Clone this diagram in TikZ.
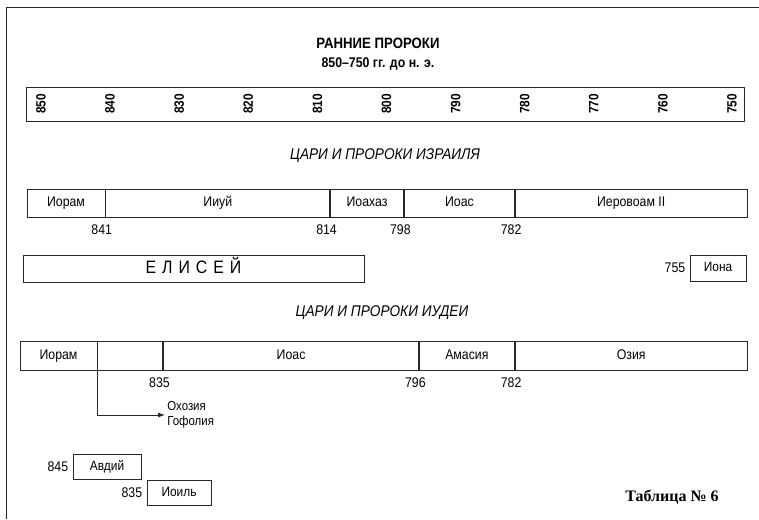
\documentclass[tikz,border=0pt]{standalone}
\usepackage{fontspec}
\setmainfont{Liberation Sans}[FakeStretch=0.88]
\newfontfamily\tablefont{Liberation Serif}
\usepackage{tikz}
\usetikzlibrary{arrows.meta,positioning}
\definecolor{ink}{RGB}{40,40,40}

\tikzset{
  reign/.style={draw=ink,line width=0.8pt,minimum height=28pt,inner sep=0pt,text height=10pt,text depth=3pt,font=\fontsize{14}{16}\selectfont},
  yearlbl/.style={inner sep=1pt,font=\fontsize{14}{16}\selectfont},
  prophet/.style={draw=ink,line width=0.8pt,minimum height=25pt,inner sep=0pt,text height=10pt,text depth=3pt,font=\fontsize{13.5}{16}\selectfont},
  heading/.style={font=\fontsize{15.5}{18}\selectfont\itshape}
}

\begin{document}
\begin{tikzpicture}[x=1pt,y=-1pt,line width=0.8pt,draw=ink]
  \useasboundingbox (0,0) rectangle (759,519);
  \draw[ink] (6,519) -- (6,7) -- (759,7);

  \node[font=\fontsize{15}{17}\selectfont\bfseries] (title) at (378,43) {РАННИЕ ПРОРОКИ};
  \node[font=\fontsize{14}{16}\selectfont\bfseries] (dates) at (378,64) {850–750 гг. до н. э.};

  \node[draw=ink,minimum width=718pt,minimum height=34pt,inner sep=0pt] (scale) at (385.5,104) {};
  \foreach \yr [count=\i from 0] in {850,840,...,750}
    \node[rotate=90,font=\fontsize{13.5}{16}\selectfont\bfseries] at (41+\i*69.1,104) {\yr};

  \node[heading] (israel) at (385,156) {ЦАРИ И ПРОРОКИ ИЗРАИЛЯ};
  \node[reign,minimum width=78pt] (iIoram) at (66,203) {Иорам};
  \node[reign,minimum width=224pt,right=0pt of iIoram] (iIiuy) {Ииуй};
  \node[reign,minimum width=73pt,right=0pt of iIiuy] (iIoahaz) {Иоахаз};
  \node[reign,minimum width=110pt,right=0pt of iIoahaz] (iIoas) {Иоас};
  \node[reign,minimum width=232pt,right=0pt of iIoas] (iIerovoam) {Иеровоам II};
  \node[yearlbl,below left=6pt and -8pt of iIoram.south east] {841};
  \node[yearlbl,below left=6pt and -8pt of iIiuy.south east] {814};
  \node[yearlbl,below left=6pt and -8pt of iIoahaz.south east] {798};
  \node[yearlbl,below left=6pt and -8pt of iIoas.south east] {782};

  \node[prophet,minimum width=341pt,minimum height=27pt,text height=12pt,font=\fontsize{18}{20}\selectfont] (elisha) at (193.5,268.5) {Е\,\,Л\,\,И\,\,С\,\,Е\,\,Й};
  \node[prophet,minimum width=56pt,minimum height=26pt] (jonah) at (718,268) {Иона};
  \node[yearlbl,left=3pt of jonah] {755};

  \node[heading] (judah) at (382,313) {ЦАРИ И ПРОРОКИ ИУДЕИ};
  \node[reign,minimum width=77pt,minimum height=29pt] (jIoram) at (58.5,355.5) {Иорам};
  \node[reign,minimum width=65pt,minimum height=29pt,right=0pt of jIoram] (jGap) {};
  \node[reign,minimum width=255pt,minimum height=29pt,right=0pt of jGap] (jIoas) {Иоас};
  \node[reign,minimum width=95pt,minimum height=29pt,right=0pt of jIoas] (jAmaziah) {Амасия};
  \node[reign,minimum width=232pt,minimum height=29pt,right=0pt of jAmaziah] (jUzziah) {Озия};
  \node[yearlbl,below left=6pt and -8pt of jGap.south east] {835};
  \node[yearlbl,below left=6pt and -8pt of jIoas.south east] {796};
  \node[yearlbl,below left=6pt and -8pt of jAmaziah.south east] {782};

  \node[align=left,anchor=west,inner sep=2pt,font=\fontsize{13}{15}\selectfont] (ahaziah) at (165,415) {Охозия\\Гофолия};
  \draw[-{Latex[length=7pt,width=5pt]},ink] (jIoram.south east) |- (ahaziah.west);

  \node[prophet,minimum width=68pt] (obadiah) at (107,467) {Авдий};
  \node[yearlbl,left=3pt of obadiah] {845};
  \node[prophet,minimum width=64pt] (joel) at (179,493) {Иоиль};
  \node[yearlbl,left=3pt of joel] {835};

  \node[font=\fontsize{16}{18}\selectfont\tablefont\bfseries] (tabno) at (672,497) {Таблица № 6};
\end{tikzpicture}
\end{document}
